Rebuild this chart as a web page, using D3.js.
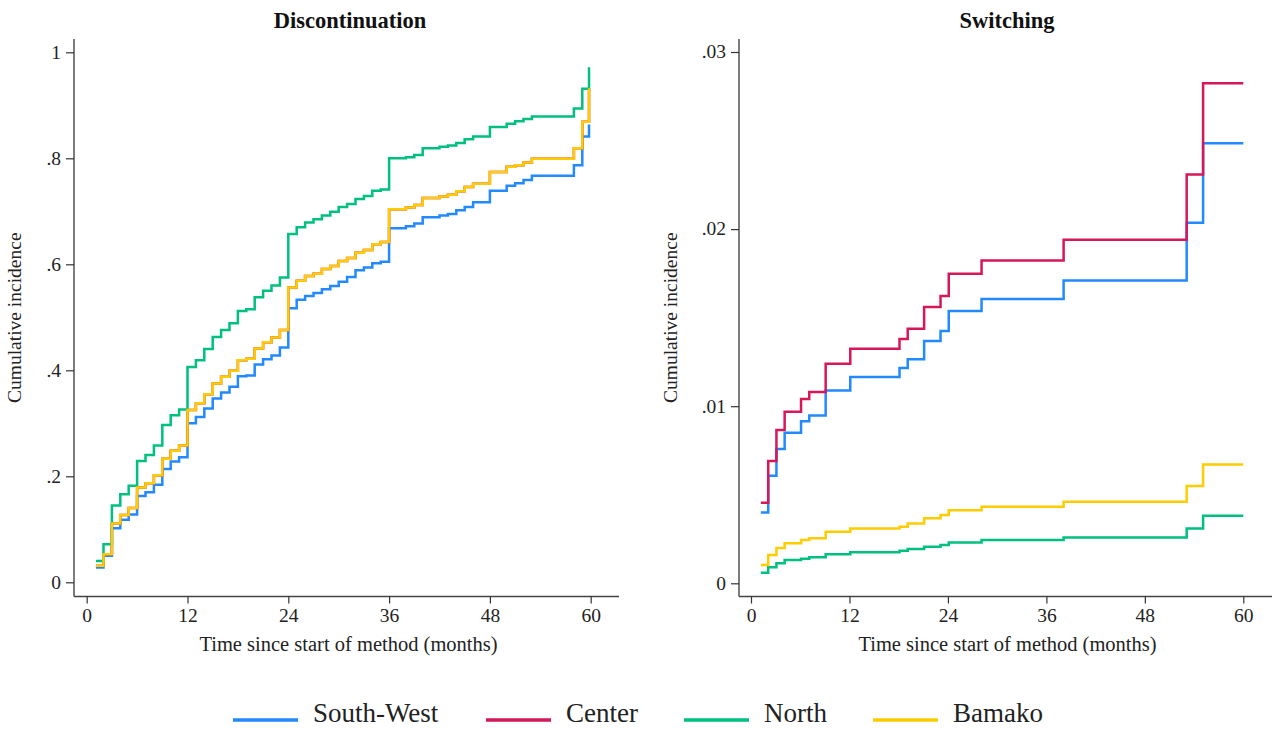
<!DOCTYPE html>
<html>
<head>
<meta charset="utf-8">
<script src="https://cdn.jsdelivr.net/npm/d3@7"></script>
<style>
  body { margin: 0; background: #fff; }
</style>
</head>
<body>
<div id="chart"></div>
<script>
// ---------- data ----------
const seriesNames = ["South-West", "Center", "North", "Bamako"];
const seriesColors = ["#2389ff", "#d6175a", "#00c07f", "#ffcc00"];
const xTicks = [0, 12, 24, 36, 48, 60];

// Discontinuation: event times (months)
const discTimes = [1.1, 2, 3, 4, 5, 6, 7, 8, 9, 10, 11, 12, 13, 14, 15, 16, 17, 18, 19, 20,
  21, 22, 23, 24, 25, 26, 27, 28, 29, 30, 31, 32, 33, 34, 35, 36, 38, 39, 40, 42, 43, 44,
  45, 46, 48, 50, 51, 52, 53, 58, 59, 59.8];
const discSouthWest = [.028, .050, .102, .118, .128, .163, .170, .184, .214, .228, .236, .300,
  .312, .328, .347, .358, .369, .389, .390, .411, .421, .428, .443, .517, .533, .540, .546,
  .553, .559, .567, .576, .589, .594, .602, .605, .668, .672, .677, .689, .692, .695, .702,
  .708, .717, .739, .748, .753, .759, .767, .787, .841, .864];
// Center lies right under Bamako in this panel
const discCenter = [.031, .053, .111, .127, .140, .179, .187, .202, .233, .248, .258, .325,
  .338, .355, .375, .388, .399, .419, .422, .441, .453, .462, .476, .556, .569, .578, .582,
  .591, .597, .606, .612, .622, .627, .638, .642, .704, .707, .712, .725, .728, .731, .738,
  .746, .752, .774, .784, .787, .792, .799, .819, .869, .932];
const discNorth = [.040, .072, .145, .166, .182, .229, .240, .258, .297, .315, .326, .406,
  .419, .440, .463, .476, .489, .512, .515, .538, .550, .560, .575, .657, .670, .679, .685,
  .692, .699, .708, .714, .723, .729, .739, .741, .800, .802, .806, .819, .822, .824, .829,
  .836, .841, .859, .865, .870, .874, .879, .894, .931, .972];
const discBamako = [.031, .053, .111, .127, .140, .179, .187, .202, .233, .248, .258, .325,
  .338, .355, .375, .388, .399, .419, .422, .441, .453, .462, .476, .556, .569, .578, .582,
  .591, .597, .606, .612, .622, .627, .638, .642, .704, .707, .712, .725, .728, .731, .738,
  .746, .752, .774, .784, .787, .792, .799, .819, .869, .932];
const discYTicks = [0, .2, .4, .6, .8, 1];

// Switching
const switchTimes = [1.2, 2.1, 3.1, 4.1, 6.1, 7.1, 9.1, 12.1, 18.1, 19.1, 21.1, 23.1, 24.1,
  28.1, 38.1, 53.1, 55.1, 60];
const switchSouthWest = [.0040, .00607, .00759, .0085, .00915, .00947, .01088, .01165, .01216,
  .01265, .01368, .01425, .01537, .01606, .0171, .02036, .02485, .02485];
const switchCenter = [.00455, .0069, .00865, .00968, .0104, .0108, .0124, .01325, .0138,
  .01438, .0156, .01622, .01748, .01823, .0194, .02308, .02823, .02823];
const switchNorth = [.0006, .0009, .00113, .00131, .00139, .00147, .00164, .00175, .00184,
  .00193, .00206, .00216, .00231, .00244, .00259, .0031, .00381, .00381];
const switchBamako = [.00103, .0016, .0020, .00226, .00244, .00254, .00291, .0031, .00319,
  .00338, .00367, .00385, .00413, .00432, .0046, .0055, .00671, .00671];
const switchYTicks = [0, .01, .02, .03];

// ---------- drawing ----------
const W = 1275, H = 729;
const FONT = "'Liberation Serif', 'Times New Roman', serif";
const svg = d3.select("#chart").append("svg").attr("width", W).attr("height", H)
  .attr("font-family", FONT);

const panels = [
  { title: "Discontinuation", times: discTimes,
    series: [discSouthWest, discCenter, discNorth, discBamako],
    yMax: 1, yTicks: discYTicks, fmt: d => d === 0 ? "0" : d === 1 ? "1" : d3.format(".1f")(d).replace(/^0/, ""),
    axisX: 74, axisRight: 619, xRange: [86.7, 590.7], yRange: [582.3, 52.3],
    titleX: 350, ylabX: 21 },
  { title: "Switching", times: switchTimes,
    series: [switchSouthWest, switchCenter, switchNorth, switchBamako],
    yMax: .03, yTicks: switchYTicks, fmt: d => d === 0 ? "0" : d3.format(".2f")(d).replace(/^0/, ""),
    axisX: 739, axisRight: 1272, xRange: [751, 1243.3], yRange: [583.3, 52],
    titleX: 1007, ylabX: 677 }
];
const axisY = 596.5, axisTop = 39;

panels.forEach(p => {
  const x = d3.scaleLinear().domain([0, 60]).range(p.xRange);
  const y = d3.scaleLinear().domain([0, p.yMax]).range(p.yRange);
  const g = svg.append("g");

  // axis lines
  g.append("line").attr("x1", p.axisX).attr("x2", p.axisX).attr("y1", axisTop).attr("y2", axisY)
    .attr("stroke", "#444").attr("stroke-width", 1.4);
  g.append("line").attr("x1", p.axisX).attr("x2", p.axisRight).attr("y1", axisY).attr("y2", axisY)
    .attr("stroke", "#444").attr("stroke-width", 1.4);

  const yAxis = d3.axisLeft(y).tickValues(p.yTicks).tickFormat(p.fmt).tickSize(8).tickPadding(5);
  const ya = g.append("g").attr("transform", `translate(${p.axisX},0)`).call(yAxis)
    .attr("font-family", FONT);
  ya.select(".domain").remove();
  ya.selectAll("line").attr("stroke", "#333").attr("stroke-width", 1.2);
  ya.selectAll("text").style("font-size", "19.5px").style("font-family", FONT)
    .attr("fill", "#222").attr("dy", "0.3em");

  const xAxis = d3.axisBottom(x).tickValues(xTicks).tickSize(7).tickPadding(5);
  const xa = g.append("g").attr("transform", `translate(0,${axisY})`).call(xAxis)
    .attr("font-family", FONT);
  xa.select(".domain").remove();
  xa.selectAll("line").attr("stroke", "#333").attr("stroke-width", 1.2);
  xa.selectAll("text").style("font-size", "19.5px").style("font-family", FONT).attr("fill", "#222");

  // titles
  g.append("text").attr("x", p.titleX).attr("y", 28).attr("text-anchor", "middle")
    .style("font-size", "22.5px").style("font-weight", "bold").attr("fill", "#111").text(p.title);
  g.append("text").attr("x", (p.axisX + p.axisRight) / 2 + 2).attr("y", 651).attr("text-anchor", "middle")
    .style("font-size", "20.5px").attr("fill", "#222").text("Time since start of method (months)");
  g.append("text").attr("transform", `translate(${p.ylabX},${(axisTop + axisY) / 2}) rotate(-90)`)
    .attr("text-anchor", "middle").style("font-size", "19.5px").attr("fill", "#222")
    .text("Cumulative incidence");

  // step curves
  const line = d3.line().curve(d3.curveStepAfter)
    .x(d => x(d[0])).y(d => y(d[1]));
  p.series.forEach((vals, i) => {
    const pts = p.times.map((t, k) => [t, vals[k]]);
    g.append("path").datum(pts).attr("d", line)
      .attr("fill", "none").attr("stroke", seriesColors[i]).attr("stroke-width", 2.5)
      .attr("stroke-linejoin", "miter");
  });
});

// legend
const legendX = [233, 486, 684, 873];
const lg = svg.append("g");
seriesNames.forEach((name, i) => {
  lg.append("line").attr("x1", legendX[i]).attr("x2", legendX[i] + 65)
    .attr("y1", 720).attr("y2", 720).attr("stroke", seriesColors[i]).attr("stroke-width", 3.5);
  lg.append("text").attr("x", legendX[i] + 80).attr("y", 722)
    .style("font-size", "27px").attr("fill", "#222").text(name);
});
</script>
</body>
</html>
